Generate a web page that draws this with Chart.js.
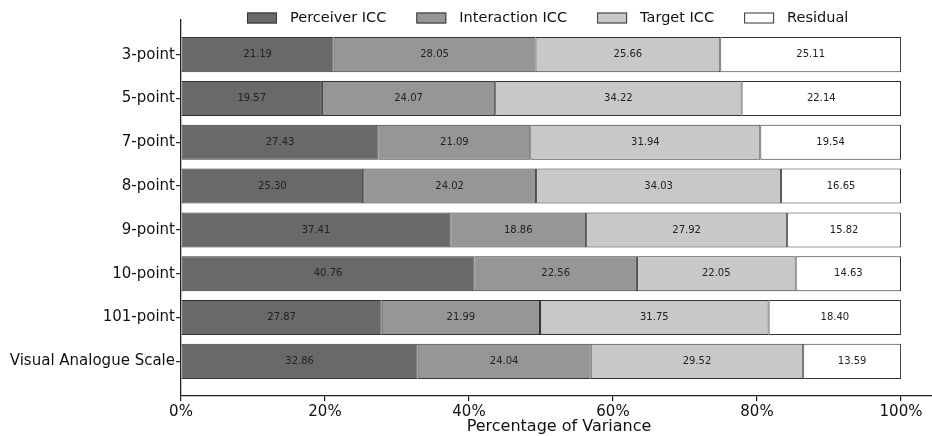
<!DOCTYPE html>
<html>
<head>
<meta charset="utf-8">
<script src="https://cdn.jsdelivr.net/npm/chart.js@4"></script>
<style>
  html, body { margin: 0; padding: 0; overflow: hidden; background: #fff; }
</style>
</head>
<body>
<canvas id="iccChart" width="937" height="436"></canvas>
<script>
// categories (top to bottom) and the four variance components, in %
const categories = ['3-point', '5-point', '7-point', '8-point', '9-point', '10-point', '101-point', 'Visual Analogue Scale'];
const seriesNames = ['Perceiver ICC', 'Interaction ICC', 'Target ICC', 'Residual'];
const perceiver = [21.19, 19.57, 27.43, 25.30, 37.41, 40.76, 27.87, 32.86];
const interaction = [28.05, 24.07, 21.09, 24.02, 18.86, 22.56, 21.99, 24.04];
const target = [25.66, 34.22, 31.94, 34.03, 27.92, 22.05, 31.75, 29.52];
const residual = [25.11, 22.14, 19.54, 16.65, 15.82, 14.63, 18.40, 13.59];
const xTicks = [0, 20, 40, 60, 80, 100];

const fills = ['#696969', '#969696', '#c8c8c8', '#ffffff'];
const edge = '#333333';
const FONT = '"DejaVu Sans", sans-serif';

Chart.defaults.font.family = FONT;
Chart.defaults.color = '#111';

// legend across the top, drawn by hand so it sits where the original does
const topLegend = {
    id: 'topLegend',
    afterDraw(chart) {
        const ctx = chart.ctx;
        ctx.save();
        ctx.font = '14.5px ' + FONT;
        ctx.textBaseline = 'middle';
        let x = 247;
        const y = 18;
        chart.data.datasets.forEach(ds => {
            ctx.fillStyle = ds.backgroundColor;
            ctx.fillRect(x, y - 5.5, 30, 11);
            ctx.strokeStyle = edge;
            ctx.lineWidth = 1;
            ctx.strokeRect(x + 0.5, y - 5, 29, 10);
            ctx.fillStyle = '#111';
            ctx.fillText(ds.label, x + 43, y);
            x += 43 + ctx.measureText(ds.label).width + 30;
        });
        ctx.restore();
    }
};

// value written in the middle of each segment
const barLabels = {
    id: 'barLabels',
    afterDatasetsDraw(chart) {
        const ctx = chart.ctx;
        ctx.save();
        ctx.font = '10px ' + FONT;
        ctx.fillStyle = '#222';
        ctx.textAlign = 'center';
        ctx.textBaseline = 'middle';
        chart.data.datasets.forEach((ds, k) => {
            const meta = chart.getDatasetMeta(k);
            meta.data.forEach((bar, i) => {
                const p = bar.getProps(['x', 'y', 'base'], true);
                ctx.fillText(ds.data[i].x.toFixed(2), (p.x + p.base) / 2, p.y);
            });
        });
        ctx.restore();
    }
};

const seriesValues = [perceiver, interaction, target, residual];

const ctx = document.getElementById('iccChart').getContext('2d');
const chart = new Chart(ctx, {
    type: 'bar',
    data: {
        datasets: seriesValues.map((vals, k) => ({
            label: seriesNames[k],
            data: vals.map((v, i) => ({ x: v, y: i })),
            backgroundColor: fills[k],
            borderColor: edge,
            borderWidth: 1,
            borderSkipped: false,
            barPercentage: 0.8,
            categoryPercentage: 1
        }))
    },
    options: {
        indexAxis: 'y',
        responsive: false,
        animation: false,
        layout: { padding: { top: 20, left: 0, right: 0, bottom: 0 } },
        plugins: {
            legend: { display: false },
            tooltip: { enabled: false }
        },
        scales: {
            x: {
                type: 'linear',
                stacked: true,
                min: 0,
                max: 105,
                afterBuildTicks: s => { s.ticks = xTicks.map(v => ({ value: v })); },
                afterFit: s => { s.height = 40; },
                ticks: {
                    callback: v => v + '%',
                    font: { size: 15 },
                    color: '#111',
                    padding: 2,
                    maxRotation: 0
                },
                grid: { drawOnChartArea: false, tickLength: 5, color: '#222', lineWidth: 1.2 },
                border: { color: '#222', width: 1.3 },
                title: {
                    display: true,
                    text: 'Percentage of Variance',
                    font: { size: 16 },
                    color: '#111',
                    padding: 0
                }
            },
            y: {
                type: 'linear',
                stacked: true,
                reverse: true,
                offset: false,
                min: -0.79,
                max: 7.79,
                afterBuildTicks: s => { s.ticks = categories.map((c, i) => ({ value: i })); },
                afterFit: s => { s.width = 181; },
                ticks: {
                    callback: v => categories[v],
                    font: { size: 15 },
                    color: '#111',
                    padding: 1
                },
                grid: { offset: false, drawOnChartArea: false, tickLength: 5, color: '#222', lineWidth: 1.2 },
                border: { color: '#222', width: 1.3 }
            }
        }
    },
    plugins: [topLegend, barLabels]
});
</script>
</body>
</html>
